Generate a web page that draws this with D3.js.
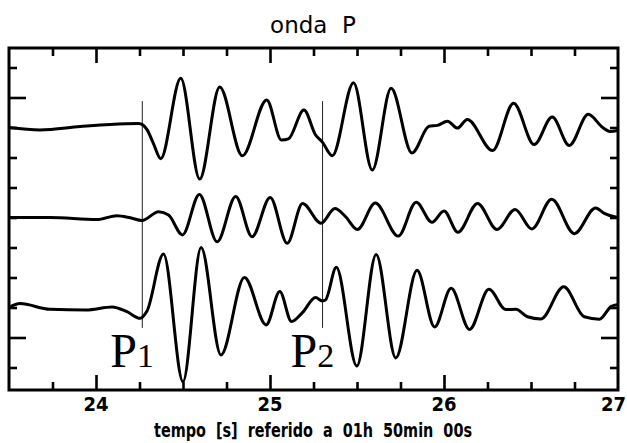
<!DOCTYPE html>
<meta charset="utf-8">
<style>
    body { margin: 0; background: #fff; }
    svg { display: block; }
    .trace { fill: none; stroke: #000; stroke-width: 3; stroke-linejoin: round; }
    .pick { stroke: #222; stroke-width: 1; }
    .tick line { stroke: #000; stroke-width: 2.6; }
</style>
<body>
<div id="chart"></div>
<script src="https://cdn.jsdelivr.net/npm/d3@7"></script>
<script>
// time in seconds (after 01h 50min 00s), amplitude in plot units around each trace's baseline
var t1 = [23.500, 23.678, 23.909, 24.081, 24.243, 24.271, 24.294, 24.329, 24.372, 24.487, 24.596, 24.711, 24.841, 24.981, 25.066, 25.106, 25.195, 25.262, 25.300, 25.358, 25.480, 25.588, 25.696, 25.816, 25.914, 25.962, 26.020, 26.077, 26.134, 26.279, 26.400, 26.518, 26.622, 26.720, 26.829, 26.912, 26.954, 27.000];
var a1 = [0.00, -0.08, 0.03, 0.10, 0.13, 0.08, -0.08, -0.52, -1.04, 1.64, -1.72, 1.35, -0.94, 0.92, -0.42, -0.38, 0.58, -0.25, -0.48, -0.94, 1.49, -1.42, 1.31, -0.85, 0.04, 0.07, 0.21, -0.02, 0.27, -0.77, 0.81, -0.57, 0.35, -0.60, 0.44, 0.00, -0.13, -0.10];

var t2 = [23.500, 23.736, 24.005, 24.120, 24.197, 24.264, 24.360, 24.417, 24.497, 24.594, 24.696, 24.803, 24.897, 25.001, 25.099, 25.187, 25.293, 25.373, 25.434, 25.502, 25.605, 25.737, 25.840, 25.931, 26.000, 26.080, 26.193, 26.304, 26.409, 26.505, 26.619, 26.749, 26.871, 26.921, 26.979, 27.000];
var a2 = [0.00, 0.00, -0.07, 0.06, -0.01, -0.10, 0.19, 0.08, -0.58, 0.77, -0.81, 0.70, -0.64, 0.67, -0.86, 0.47, -0.19, 0.30, 0.03, -0.40, 0.48, -0.62, 0.51, -0.16, 0.22, -0.49, 0.47, -0.40, 0.27, -0.38, 0.61, -0.54, 0.32, 0.14, 0.03, 0.01];

var t3 = [23.500, 23.563, 23.736, 23.943, 24.093, 24.178, 24.254, 24.293, 24.388, 24.500, 24.604, 24.718, 24.853, 24.978, 25.056, 25.124, 25.185, 25.262, 25.300, 25.319, 25.381, 25.499, 25.610, 25.723, 25.845, 25.946, 26.041, 26.147, 26.258, 26.356, 26.413, 26.480, 26.557, 26.688, 26.806, 26.893, 26.960, 27.000];
var a3 = [0.00, 0.13, -0.06, -0.08, 0.02, -0.14, -0.36, -0.12, 1.78, -2.47, 2.00, -1.58, 1.00, -0.58, 0.53, -0.47, -0.18, 0.33, 0.22, 0.25, 1.34, -1.95, 1.77, -1.68, 1.24, -0.65, 0.64, -0.73, 0.61, -0.07, -0.06, -0.31, -0.38, 0.69, -0.31, -0.39, 0.03, 0.10];

var baselines = [3, 0, -3];
var picks = [24.266, 25.302];
var pickLabels = ["1", "2"];
var xLabels = [24, 25, 26, 27];

var width = 627, height = 443;
var x = d3.scaleLinear().domain([23.5, 27]).range([9, 618]);
var y = d3.scaleLinear().domain([-5.75, 5.65]).range([390, 48]);

var svg = d3.select("#chart").append("svg")
    .attr("width", width)
    .attr("height", height);

// title
svg.append("text")
    .attr("x", 313).attr("y", 33)
    .attr("text-anchor", "middle")
    .style("font-family", "'DejaVu Sans', sans-serif")
    .style("font-size", "23px")
    .style("white-space", "pre")
    .text("onda  P");

// ticks (inside the frame)
var minorX = d3.range(23.75, 27, 0.25).filter(function (d) { return d % 1 !== 0; });
var majorX = [24, 25, 26];
var minorY = d3.range(-5, 6).filter(function (d) { return Math.abs(d) !== 4; });
var majorY = [-4, 4];

function tickAxis(axis, tx, ty) {
  svg.append("g")
    .attr("transform", "translate(" + tx + "," + ty + ")")
    .call(axis)
    .call(function (g) { g.select(".domain").remove(); g.selectAll("text").remove(); });
}
tickAxis(d3.axisTop(x).tickValues(minorX).tickSize(8), 0, 390);
tickAxis(d3.axisTop(x).tickValues(majorX).tickSize(15), 0, 390);
tickAxis(d3.axisBottom(x).tickValues(minorX).tickSize(8), 0, 48);
tickAxis(d3.axisBottom(x).tickValues(majorX).tickSize(15), 0, 48);
tickAxis(d3.axisRight(y).tickValues(minorY).tickSize(8), 9, 0);
tickAxis(d3.axisRight(y).tickValues(majorY).tickSize(17), 9, 0);
tickAxis(d3.axisLeft(y).tickValues(minorY).tickSize(8), 618, 0);
tickAxis(d3.axisLeft(y).tickValues(majorY).tickSize(17), 618, 0);

// frame
svg.append("rect")
    .attr("x", x(23.5)).attr("y", y(5.65))
    .attr("width", x(27) - x(23.5))
    .attr("height", y(-5.75) - y(5.65))
    .attr("fill", "none")
    .attr("stroke", "#000")
    .attr("stroke-width", 3);

// pick lines
svg.selectAll(".pick")
  .data(picks)
  .enter()
  .append("line")
    .attr("class", "pick")
    .attr("x1", function (d) { return x(d); })
    .attr("x2", function (d) { return x(d); })
    .attr("y1", y(3.88))
    .attr("y2", y(-3.68));

// traces
var line = d3.line()
    .x(function (d) { return x(d[0]); })
    .y(function (d) { return y(d[1]); })
    .curve(d3.curveMonotoneX);

[[t1, a1], [t2, a2], [t3, a3]].forEach(function (s, i) {
  var pts = s[0].map(function (t, j) { return [t, s[1][j] + baselines[i]]; });
  svg.append("path").attr("class", "trace").attr("d", line(pts));
});

// P1 / P2 labels
var pl = svg.selectAll(".plab")
  .data(picks)
  .enter()
  .append("text")
    .attr("class", "plab")
    .attr("x", function (d) { return x(d) - 32; })
    .attr("y", y(-4.98))
    .style("font-family", "'Liberation Serif', 'Times New Roman', serif")
    .style("font-size", "48px");
pl.append("tspan").text("P");
pl.append("tspan")
    .style("font-size", "34px")
    .text(function (d, i) { return pickLabels[i]; });

// x tick labels (last one kept inside the window)
svg.selectAll(".xlab")
  .data(xLabels)
  .enter()
  .append("text")
    .attr("class", "xlab")
    .attr("x", function (d) { return d === 27 ? width - 1 : x(d); })
    .attr("y", 411)
    .attr("text-anchor", function (d) { return d === 27 ? "end" : "middle"; })
    .style("font-family", "'Liberation Sans Narrow', 'DejaVu Sans Condensed', sans-serif")
    .style("font-weight", "bold")
    .style("font-size", "20px")
    .text(function (d) { return d; });

// x axis title
svg.append("text")
    .attr("x", 313).attr("y", 437)
    .attr("text-anchor", "middle")
    .attr("textLength", 318)
    .attr("lengthAdjust", "spacingAndGlyphs")
    .style("font-family", "'Liberation Sans Narrow', 'DejaVu Sans Condensed', sans-serif")
    .style("font-weight", "bold")
    .style("font-size", "19px")
    .style("white-space", "pre")
    .text("tempo  [s]  referido  a  01h  50min  00s");
</script>
</body>
